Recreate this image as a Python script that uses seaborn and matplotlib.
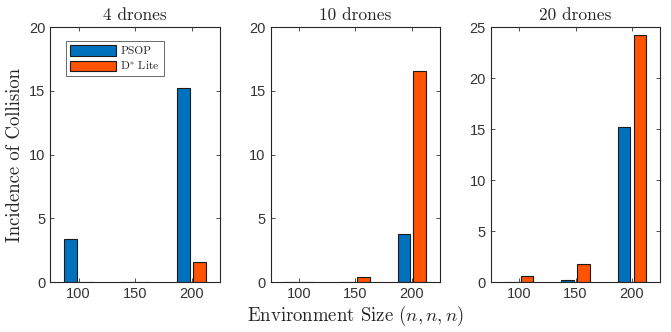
import matplotlib
matplotlib.use("Agg")
import matplotlib.pyplot as plt
import seaborn as sns
import pandas as pd

# Data
sizes = ["100", "150", "200"]
panels = ["4 drones", "10 drones", "20 drones"]
psop_4 = [3.4, 0.0, 15.2]
dlite_4 = [0.0, 0.0, 1.6]
psop_10 = [0.0, 0.0, 3.8]
dlite_10 = [0.0, 0.4, 16.6]
psop_20 = [0.0, 0.2, 15.2]
dlite_20 = [0.6, 1.8, 24.2]
ymax = [20, 20, 25]

methods = ["PSOP", r"D$^{*}$ Lite"]
series = {
    "4 drones": (psop_4, dlite_4),
    "10 drones": (psop_10, dlite_10),
    "20 drones": (psop_20, dlite_20),
}

rows = []
for p in panels:
    for m, vals in zip(methods, series[p]):
        for s, v in zip(sizes, vals):
            rows.append({"panel": p, "size": s, "method": m, "value": v})
df = pd.DataFrame(rows)

# Style
sns.set_theme(style="white")
plt.rcParams["mathtext.fontset"] = "cm"
plt.rcParams["axes.edgecolor"] = "#262626"
plt.rcParams["axes.linewidth"] = 0.8
serif = "cmr10"
tick_font = "Liberation Sans"
palette = {"PSOP": "#0072BD", r"D$^{*}$ Lite": "#FF5300"}

fig, axes = plt.subplots(1, 3, figsize=(6.71, 3.32), dpi=100)
fig.subplots_adjust(left=0.075, right=0.984, bottom=0.15, top=0.918, wspace=0.3)

for i, (ax, p) in enumerate(zip(axes, panels)):
    sub = df[df["panel"] == p]
    sns.barplot(data=sub, x="size", y="value", hue="method", order=sizes,
                hue_order=methods, palette=palette, width=0.56, gap=0.2,
                edgecolor="#1a1a1a", linewidth=0.8, saturation=1, ax=ax,
                legend=(i == 0))
    ax.set_xlim(-0.5, 2.5)
    ax.set_ylim(0, ymax[i])
    ax.set_yticks(range(0, ymax[i] + 1, 5))
    ax.set_title(p, fontfamily=serif, fontsize=12.5, pad=5)
    ax.set_xlabel("")
    ax.set_ylabel("")
    ax.tick_params(direction="in", length=3, width=0.6, colors="#333333",
                   top=True, right=True, labelsize=10.5, bottom=True, left=True)
    for lab in ax.get_xticklabels() + ax.get_yticklabels():
        lab.set_fontfamily(tick_font)
    for sp in ax.spines.values():
        sp.set_visible(True)
        sp.set_color("#262626")
        sp.set_linewidth(0.8)

axes[0].set_ylabel("Incidence of Collision", fontfamily=serif, fontsize=13.5, labelpad=4)
axes[1].set_xlabel(r"Environment Size $(n, n, n)$", fontfamily=serif, fontsize=13.5, labelpad=2)

leg = axes[0].legend(loc="upper left", bbox_to_anchor=(0.09, 0.945),
                     prop={"family": serif, "size": 8.3}, handlelength=4.0,
                     handleheight=1.0, fancybox=False, edgecolor="#262626",
                     borderpad=0.35, labelspacing=0.25, handletextpad=0.4,
                     borderaxespad=0)
leg.get_frame().set_linewidth(0.6)

fig.savefig("out.png", dpi=100)
